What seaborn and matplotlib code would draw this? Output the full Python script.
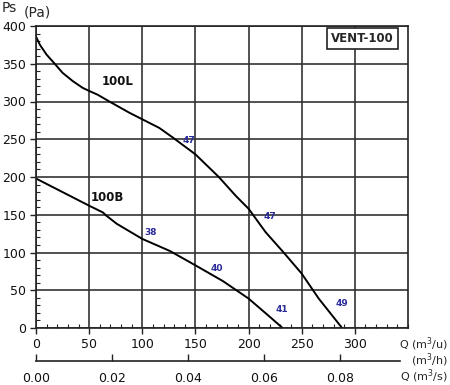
import matplotlib
matplotlib.use("Agg")
import matplotlib.pyplot as plt
import seaborn as sns
import pandas as pd
from matplotlib.ticker import MultipleLocator

# Data
q_100L = [0, 3.7, 10, 17.6, 25, 34.6, 44, 50, 58, 69, 88, 116, 129, 150, 172, 188, 200, 216, 233, 250, 266, 288]
ps_100L = [386, 375, 362, 350, 338, 327, 318, 314, 309, 300, 285, 265, 252, 230, 200, 175, 158, 127, 100, 72, 39, 0]
q_100B = [0, 25, 50, 63, 66, 76, 100, 126, 150, 176, 200, 219, 232]
ps_100B = [198, 180, 162, 153, 149, 138, 118, 102, 83, 62, 39, 16, 0]
eff_labels = ["47", "47", "49", "38", "40", "41"]
eff_q = [144, 220, 288, 108, 170, 231]
eff_ps = [249, 148, 32, 127, 79, 24]
curve_names = ["100L", "100B"]
name_q = [77, 67]
name_ps = [326, 173]
x_ticks = [0, 50, 100, 150, 200, 250, 300]
y_ticks = [0, 50, 100, 150, 200, 250, 300, 350, 400]
x2_ticks = [0.00, 0.02, 0.04, 0.06, 0.08]

sns.set_theme(style="white")
plt.rcParams['font.family'] = ['DejaVu Sans']

df = pd.concat([
    pd.DataFrame({"Q": q_100L, "Ps": ps_100L, "model": "100L"}),
    pd.DataFrame({"Q": q_100B, "Ps": ps_100B, "model": "100B"}),
])

fig = plt.figure(figsize=(4.5, 3.85), dpi=100)
ax = fig.add_axes([36/450, 57/385, 372/450, 302/385])
for m in curve_names:
    sub = df[df.model == m]
    sns.lineplot(data=sub, x="Q", y="Ps", ax=ax, color="black", lw=1.4,
                 sort=False, estimator=None, legend=False)

ax.set_xlim(0, 350)
ax.set_ylim(0, 400)
ax.set_xticks(x_ticks)
ax.set_yticks(y_ticks)
ax.xaxis.set_minor_locator(MultipleLocator(10))
ax.yaxis.set_minor_locator(MultipleLocator(10))
ax.grid(True, which="major", color="#333333", lw=1.2)
ax.set_axisbelow(True)
for s in ax.spines.values():
    s.set_color("#222222")
    s.set_linewidth(1.2)
ax.tick_params(which="major", direction="out", length=4, width=1, color="#222222",
               labelsize=9, pad=3, bottom=True, left=True, labelcolor="#111111")
ax.tick_params(which="minor", direction="in", length=3, width=0.8, color="#222222",
               bottom=True, left=True)
ax.set_xlabel("")
ax.set_ylabel("")

for t, q, p in zip(eff_labels, eff_q, eff_ps):
    ax.text(q, p, t, color="#2b2b9a", fontsize=6.5, fontweight="bold",
            ha="center", va="center")
for t, q, p in zip(curve_names, name_q, name_ps):
    ax.text(q, p, t, color="#111111", fontsize=8.5, fontweight="bold",
            ha="center", va="center")
ax.text(307, 383, "VENT-100", fontsize=8.5, fontweight="bold", ha="center", va="center",
        bbox=dict(boxstyle="square,pad=0.35", fc="white", ec="#222222", lw=1.2))

fig.text(2/450, 1 - 8/385, "Ps", fontsize=10, va="center", ha="left")
fig.text(24/450, 1 - 12/385, "(Pa)", fontsize=10, va="center", ha="left")

# Secondary axis in m3/s
ax2 = fig.add_axes([36/450, 24/385, 364/450, 0.001])
ax2.set_xlim(0, 364 / 38 / 100)
ax2.set_xticks(x2_ticks)
ax2.set_xticklabels([f"{v:.2f}" for v in x2_ticks])
ax2.set_yticks([])
for k in ["top", "left", "right"]:
    ax2.spines[k].set_visible(False)
ax2.spines["bottom"].set_color("#222222")
ax2.spines["bottom"].set_linewidth(1.2)
ax2.patch.set_alpha(0)
ax2.tick_params(axis="x", direction="in", length=5, width=1, color="#222222",
                labelsize=9, pad=8, bottom=True, labelcolor="#111111")

fig.text(448/450, 1 - 344/385, "Q (m$^3$/u)", fontsize=8, ha="right", va="center")
fig.text(448/450, 1 - 360/385, "(m$^3$/h)", fontsize=8, ha="right", va="center")
fig.text(448/450, 1 - 376/385, "Q (m$^3$/s)", fontsize=8, ha="right", va="center")

fig.savefig("out.png", dpi=100)
